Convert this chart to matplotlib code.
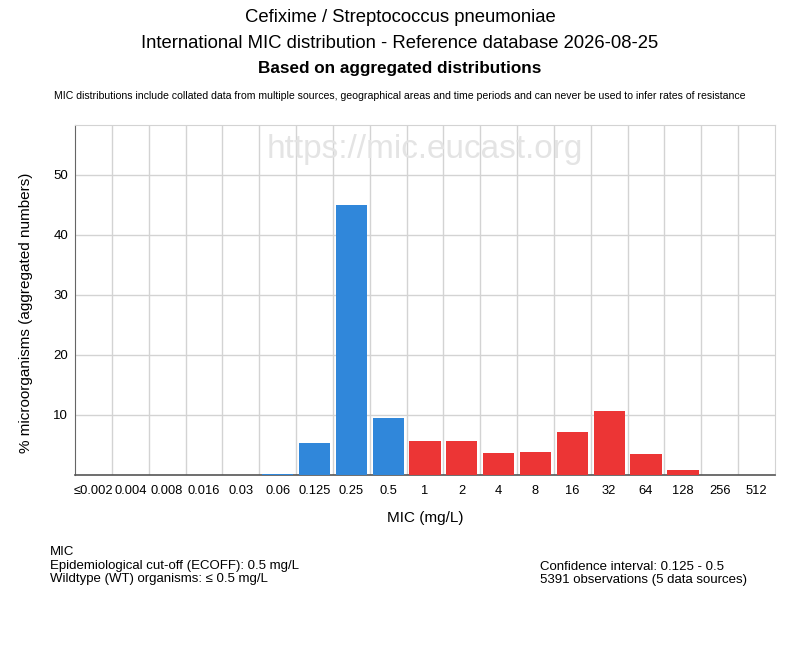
import numpy as np
import matplotlib
matplotlib.use('Agg')
import matplotlib.pyplot as plt

# 数据
mic_labels = ['≤0.002', '0.004', '0.008', '0.016', '0.03', '0.06', '0.125', '0.25', '0.5',
              '1', '2', '4', '8', '16', '32', '64', '128', '256', '512']
pct = [0, 0, 0, 0, 0, 0.17, 5.33, 45.0, 9.5,
       5.72, 5.72, 3.72, 3.89, 7.22, 10.72, 3.56, 0.89, 0, 0]
ecoff_index = 8  # 0.5 mg/L
yticks = [10, 20, 30, 40, 50]

title_lines = ['Cefixime / Streptococcus pneumoniae',
               'International MIC distribution - Reference database 2026-08-25']
subtitle = 'Based on aggregated distributions'
note = ('MIC distributions include collated data from multiple sources, geographical areas '
        'and time periods and can never be used to infer rates of resistance')
left_info = ['MIC', 'Epidemiological cut-off (ECOFF): 0.5 mg/L', 'Wildtype (WT) organisms: ≤ 0.5 mg/L']
right_info = ['Confidence interval: 0.125 - 0.5', '5391 observations (5 data sources)']

blue = '#3087da'
red = '#ec3535'
grid_c = '#d3d3d3'

plt.rcParams['font.family'] = ['Liberation Sans', 'DejaVu Sans']

fig = plt.figure(figsize=(8, 6.5), dpi=100)
ax = fig.add_axes([75 / 800, 1 - 475 / 650, 700 / 800, 350 / 650])

x = np.arange(len(mic_labels))
colors = [blue if i <= ecoff_index else red for i in x]
ax.bar(x, pct, width=0.85, color=colors, zorder=3)

ax.set_xlim(-0.5, len(mic_labels) - 0.5)
ax.set_ylim(0, 58.3)
ax.set_xticks(x)
ax.set_xticklabels(mic_labels, fontsize=9.3)
ax.set_yticks(yticks)
ax.set_yticklabels([str(t) for t in yticks], fontsize=9.5)
ax.tick_params(axis='x', length=0, pad=7)
ax.tick_params(axis='y', length=0, pad=5)

# 网格
for b in np.arange(0.5, len(mic_labels) - 0.5, 1):
    ax.axvline(b, color=grid_c, lw=1, zorder=0)
for t in yticks:
    ax.axhline(t, color=grid_c, lw=1, zorder=0)
for s in ['top', 'right']:
    ax.spines[s].set_color(grid_c)
ax.spines['left'].set_color('#666666')
ax.spines['left'].set_linewidth(0.8)
ax.spines['bottom'].set_color('#555555')
ax.spines['bottom'].set_linewidth(1.2)

ax.set_xlabel('MIC (mg/L)', fontsize=11)
ax.xaxis.set_label_coords(0.5, -(511 - 475) / 350)
ax.set_ylabel('% microorganisms (aggregated numbers)', fontsize=11)
ax.yaxis.set_label_coords(-(75 - 33) / 700, (475 - 313) / 350)

ax.text(0.5, 0.93, 'https://mic.eucast.org', transform=ax.transAxes, ha='center', va='center',
        fontsize=24, color='#e4e4e4', zorder=1)

fig.text(0.5, 1 - 18 / 650, title_lines[0], ha='center', va='center', fontsize=13.3)
fig.text(0.5, 1 - 44 / 650, title_lines[1], ha='center', va='center', fontsize=13.3)
fig.text(0.5, 1 - 69 / 650, subtitle, ha='center', va='center', fontsize=12.3, fontweight='bold')
fig.text(0.5, 1 - 96 / 650, note, ha='center', va='center', fontsize=7.6)

for i, s in enumerate(left_info):
    fig.text(50 / 800, 1 - (552 + 13.5 * i) / 650, s, ha='left', va='center', fontsize=9.5)
for i, s in enumerate(right_info):
    fig.text(540 / 800, 1 - (567 + 13.5 * i) / 650, s, ha='left', va='center', fontsize=9.5)

fig.savefig('out.png', dpi=100)
